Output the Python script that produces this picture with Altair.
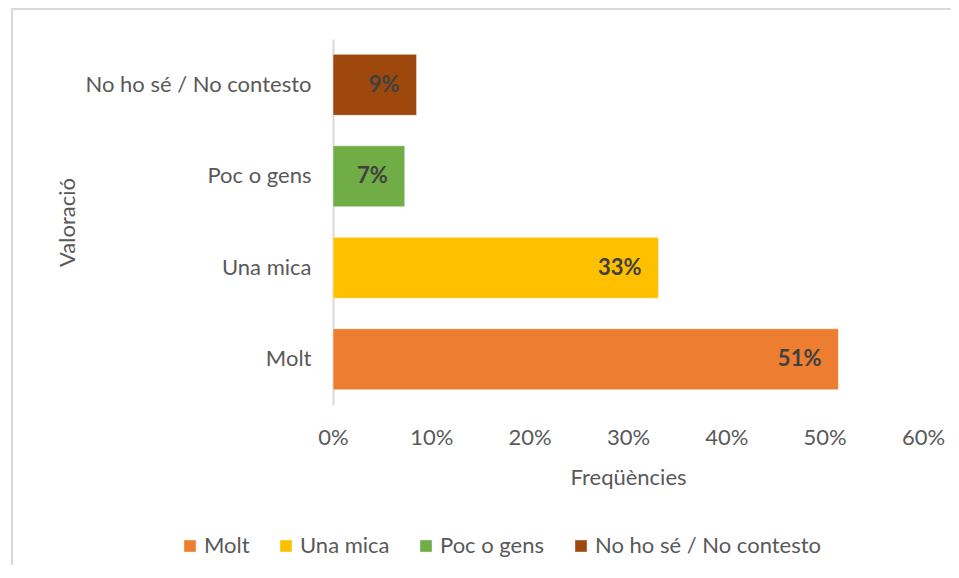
import altair as alt
import pandas as pd

categories = ["Molt", "Una mica", "Poc o gens", "No ho sé / No contesto"]
values = [0.514, 0.331, 0.073, 0.085]
labels = ["51%", "33%", "7%", "9%"]
colors = ["#ED7D31", "#FFC000", "#70AD47", "#9E480E"]
x_ticks = [0, 0.1, 0.2, 0.3, 0.4, 0.5, 0.6]

df = pd.DataFrame({"cat": categories, "val": values, "lab": labels})

FONT = "Lato"
GRAY = "#595959"
FS = 22

y_enc = alt.Y(
    "cat:N",
    sort=list(reversed(categories)),
    scale=alt.Scale(paddingInner=0.333, paddingOuter=0.167),
    axis=alt.Axis(
        title="Valoració",
        titleFont=FONT, titleFontSize=FS, titleFontWeight="normal", titleColor=GRAY,
        titleAngle=270, titleX=-266, titleY=183, titleAlign="center", titleBaseline="middle",
        labelFont=FONT, labelFontSize=FS, labelColor=GRAY, labelPadding=22, labelLimit=400,
        ticks=False, domain=True, domainColor="#D9D9D9", domainWidth=2,
        grid=False,
    ),
)

x_enc = alt.X(
    "val:Q",
    scale=alt.Scale(domain=[0, 0.6], nice=False),
    axis=alt.Axis(
        title="Freqüències",
        values=x_ticks, format=".0%",
        titleFont=FONT, titleFontSize=FS, titleFontWeight="normal", titleColor=GRAY,
        titleY=72, titleBaseline="middle",
        labelFont=FONT, labelFontSize=FS, labelColor=GRAY, labelPadding=32,
        labelBaseline="middle", labelFlush=False, labelAlign="center",
        ticks=False, domain=False, grid=False,
    ),
)

color_enc = alt.Color(
    "cat:N",
    scale=alt.Scale(domain=categories, range=colors),
    legend=alt.Legend(
        title=None, orient="none", direction="horizontal",
        legendX=-154, legendY=496,
        symbolType="square", symbolSize=135, symbolStrokeWidth=0,
        labelFont=FONT, labelFontSize=FS, labelColor=GRAY, labelOffset=3,
        labelLimit=400, columnPadding=25,
    ),
)

bars = alt.Chart(df).mark_bar(stroke="white", strokeWidth=0.5).encode(
    y=y_enc, x=x_enc, color=color_enc
)

text = alt.Chart(df).mark_text(
    align="right", baseline="middle", dx=-17, font=FONT, fontSize=FS,
    fontWeight="bold", color="#404040",
).encode(y=alt.Y("cat:N", sort=list(reversed(categories))), x="val:Q", text="lab:N")

frame = pd.DataFrame({"k": [0]})
left_rule = alt.Chart(frame).mark_rule(color="#D9D9D9", strokeWidth=2).encode(
    x=alt.value(-321), y=alt.value(-30), y2=alt.value(600)
)
top_rule = alt.Chart(frame).mark_rule(color="#D9D9D9", strokeWidth=2).encode(
    x=alt.value(-322), x2=alt.value(700), y=alt.value(-30)
)

chart = alt.layer(left_rule, top_rule, bars, text).properties(
    width=590, height=366,
    autosize=alt.AutoSizeParams(type="none"),
    padding={"left": 325, "top": 31, "right": 28, "bottom": 160},
).configure_view(stroke=None)

chart.save("out.html", embed_options={"renderer": "svg", "actions": False})
